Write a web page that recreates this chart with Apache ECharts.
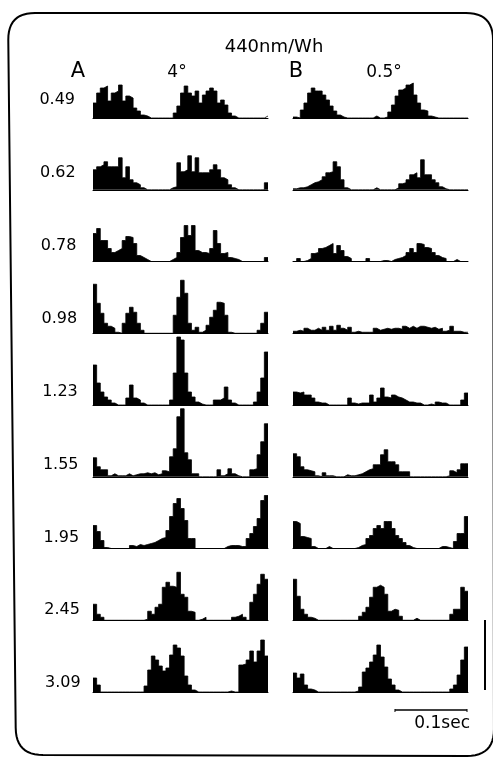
<!DOCTYPE html>
<html><head><meta charset="utf-8">
<script src="https://cdn.jsdelivr.net/npm/echarts@6/dist/echarts.min.js"></script>
<style>html,body{margin:0;padding:0;background:#fff}#c{width:493px;height:759px}</style>
</head><body><div id="c"></div><script>
// intensity labels (rows)
const rowLabels = ['0.49','0.62','0.78','0.98','1.23','1.55','1.95','2.45','3.09'];
const colLetters = ['A','B'];
const colAngles = ['4°','0.5°'];
const titleText = '440nm/Wh';
const scaleLabel = '0.1sec';
const panelDurationSec = 0.243;
const scaleSec = 0.1;
const nBins = 48;

// PSTH bin heights, column A (4°)
const a049 = [15,25,30,32,17,25,27,33,17,22,20,10,7,3,2,0,0,0,0,0,0,0,5,12,25,32,25,22,27,15,23,27,30,27,15,18,13,5,2,0,0,0,0,0,0,0,0,2];
const a062 = [20,23,25,28,23,23,23,32,12,23,10,7,5,2,0,0,0,0,0,0,0,2,3,27,18,20,34,18,32,17,17,17,20,25,20,12,10,5,2,0,0,0,0,0,0,0,0,7];
const a078 = [28,33,21,21,13,9,11,13,21,25,24,18,6,4,2,0,0,0,0,0,0,2,4,9,24,36,26,36,11,9,9,8,13,31,18,8,9,4,3,2,0,0,0,0,0,0,0,4];
const a098 = [49,30,20,10,7,5,1,0,10,20,26,21,10,3,0,0,0,0,0,0,0,0,18,36,53,40,10,3,6,1,3,8,16,23,31,30,18,1,0,0,0,0,0,0,0,3,10,21];
const a123 = [40,22,13,8,5,2,0,0,0,7,20,7,5,2,0,0,0,0,0,0,0,5,32,68,65,32,13,8,3,1,0,0,0,5,5,7,18,5,2,0,0,0,0,0,3,13,27,53];
const a155 = [19,10,7,7,1,3,1,1,1,3,1,2,3,3,4,3,4,2,3,6,5,20,28,60,68,24,17,3,3,0,0,0,0,0,7,1,3,8,3,1,0,0,0,7,8,22,35,53];
const a195 = [23,17,8,1,0,0,0,0,0,0,3,2,4,3,4,5,6,8,10,11,18,32,45,50,40,28,10,10,0,0,0,0,0,0,0,0,2,3,3,3,2,2,10,15,22,30,48,53];
const a245 = [16,6,3,0,0,0,0,0,0,0,0,0,0,0,1,9,6,13,16,33,38,34,33,48,26,23,9,8,0,1,3,0,0,0,0,0,0,0,3,4,6,3,0,18,26,36,46,41];
const a309 = [14,7,0,0,0,0,0,0,0,0,0,0,0,0,6,22,36,32,26,21,24,37,47,44,36,16,7,2,0,0,0,0,0,0,0,0,0,1,0,0,27,28,32,41,30,41,52,36];

// PSTH bin heights, column B (0.5°)
const b049 = [1,0,8,15,25,30,27,27,23,18,12,7,3,1,0,0,0,0,0,0,0,0,2,0,0,1,6,13,22,28,30,33,35,23,15,8,7,2,1,0,0,0,0,0,0,0,0,0];
const b062 = [1,2,2,3,5,7,8,10,13,17,18,28,23,10,2,0,0,0,0,0,0,0,2,0,0,0,0,0,2,6,7,10,15,17,12,30,15,15,10,7,3,1,0,0,0,0,0,0];
const b078 = [0,3,0,1,3,8,9,13,14,16,18,8,16,11,5,3,0,0,0,0,3,0,0,0,1,1,0,2,3,4,6,9,13,9,18,17,14,13,9,6,4,3,0,0,2,0,0,0];
const b098 = [2,3,2,5,3,3,5,3,6,3,7,3,8,5,3,6,1,2,1,1,1,1,5,3,4,5,4,5,5,4,7,5,7,5,7,7,6,5,6,4,5,2,3,7,2,2,1,1];
const b123 = [13,12,13,10,10,7,3,2,2,0,0,0,0,0,0,7,2,1,2,2,2,10,3,7,17,8,7,10,8,7,5,3,3,2,2,0,0,1,0,3,2,2,0,0,0,0,5,12];
const b155 = [23,20,10,7,6,5,1,0,4,1,1,0,0,0,2,1,1,2,3,5,7,8,12,12,22,27,15,15,12,5,5,5,0,0,0,0,0,0,0,0,0,0,1,6,4,7,13,13];
const b195 = [27,25,12,11,10,2,0,0,0,2,0,0,0,0,0,0,0,1,3,4,10,13,20,23,20,27,27,20,13,10,6,3,1,0,0,0,0,0,0,0,2,2,1,0,7,15,15,32];
const b245 = [41,24,11,6,3,2,0,0,0,0,0,0,0,0,0,0,0,0,4,8,13,23,33,35,33,26,9,11,10,4,0,0,0,2,0,0,0,0,0,0,0,0,0,6,11,11,33,29];
const b309 = [19,14,18,7,3,2,0,0,0,0,0,0,0,0,0,0,0,1,5,20,24,30,37,47,35,25,13,7,2,0,0,0,0,0,0,0,0,0,0,0,0,0,0,3,7,17,32,45];

const colData = [
  [a049,a062,a078,a098,a123,a155,a195,a245,a309],
  [b049,b062,b078,b098,b123,b155,b195,b245,b309]
];

const FONT = 'DejaVu Sans, sans-serif';
const colLeft = [93, 293];
const panelW = 175;
const firstBase = 118;
const rowStep = 71.75;
const yMax = 70;
const labelTop = 100, labelStep = 72.9;

// bin edges (categories) for step histogram
const binEdges = [];
for (let i = 0; i <= nBins; i++) binEdges.push(i);

const grids = [], xAxes = [], yAxes = [], series = [];
for (let c = 0; c < 2; c++) {
  for (let r = 0; r < rowLabels.length; r++) {
    const base = firstBase + r * rowStep;
    const idx = grids.length;
    const vals = colData[c][r];
    grids.push({left: colLeft[c], top: base - yMax, width: panelW, height: yMax, containLabel: false});
    xAxes.push({type: 'category', gridIndex: idx, data: binEdges, boundaryGap: false,
      axisLine: {show: true, lineStyle: {color: '#000', width: 1}},
      axisTick: {show: false}, axisLabel: {show: false}, splitLine: {show: false}});
    yAxes.push({type: 'value', gridIndex: idx, min: 0, max: yMax, show: false});
    series.push({type: 'line', step: 'end', xAxisIndex: idx, yAxisIndex: idx,
      data: vals.concat([vals[vals.length - 1]]),
      symbol: 'none', lineStyle: {color: '#000', width: 0.8}, areaStyle: {color: '#000', opacity: 1},
      silent: true, animation: false});
  }
}

const graphics = [];
// rounded frame (slightly skewed like the scanned original)
function roundedFrame(corners, rad) {
  const pts = [];
  const n = corners.length;
  for (let k = 0; k < n; k++) {
    const p0 = corners[(k + n - 1) % n], p1 = corners[k], p2 = corners[(k + 1) % n];
    const d0 = Math.hypot(p1[0]-p0[0], p1[1]-p0[1]), d2 = Math.hypot(p2[0]-p1[0], p2[1]-p1[1]);
    const a = [p1[0] + (p0[0]-p1[0]) * rad / d0, p1[1] + (p0[1]-p1[1]) * rad / d0];
    const b = [p1[0] + (p2[0]-p1[0]) * rad / d2, p1[1] + (p2[1]-p1[1]) * rad / d2];
    for (let s = 0; s <= 12; s++) {
      const t = s / 12;
      pts.push([(1-t)*(1-t)*a[0] + 2*(1-t)*t*p1[0] + t*t*b[0], (1-t)*(1-t)*a[1] + 2*(1-t)*t*p1[1] + t*t*b[1]]);
    }
  }
  return pts;
}
graphics.push({type: 'polygon', shape: {points: roundedFrame([[8,13],[493,13],[494,756],[16,755]], 27)},
  style: {fill: 'none', stroke: '#000', lineWidth: 2}, silent: true});
function txt(x, y, s, size, align) {
  graphics.push({type: 'text', x: x, y: y, silent: true,
    style: {text: s, font: size + 'px ' + FONT, fill: '#000', align: align, verticalAlign: 'middle'}});
}
txt(274, 47, titleText, 18, 'center');
txt(78, 72, colLetters[0], 21, 'center');
txt(177, 73, colAngles[0], 17, 'center');
txt(296, 72, colLetters[1], 21, 'center');
txt(384, 73, colAngles[1], 17, 'center');
for (let r = 0; r < rowLabels.length; r++) {
  txt(75 + r * 0.7, labelTop + r * labelStep, rowLabels[r], 16, 'right');
}
// time scale bar
const barLen = panelW * scaleSec / panelDurationSec;
const barRight = 467;
graphics.push({type: 'line', shape: {x1: barRight - barLen, y1: 710, x2: barRight, y2: 710}, style: {stroke: '#000', lineWidth: 1.3}, silent: true});
graphics.push({type: 'line', shape: {x1: barRight - barLen, y1: 709, x2: barRight - barLen, y2: 712}, style: {stroke: '#000', lineWidth: 1}, silent: true});
graphics.push({type: 'line', shape: {x1: barRight, y1: 709, x2: barRight, y2: 712}, style: {stroke: '#000', lineWidth: 1}, silent: true});
txt(470, 724, scaleLabel, 17, 'right');
// vertical count scale bar
graphics.push({type: 'line', shape: {x1: 485, y1: 620, x2: 485, y2: 690}, style: {stroke: '#000', lineWidth: 2}, silent: true});

const chart = echarts.init(document.getElementById('c'), null, {renderer: 'canvas'});
chart.setOption({
  animation: false,
  backgroundColor: '#fff',
  grid: grids, xAxis: xAxes, yAxis: yAxes, series: series,
  graphic: graphics
});
</script></body></html>
